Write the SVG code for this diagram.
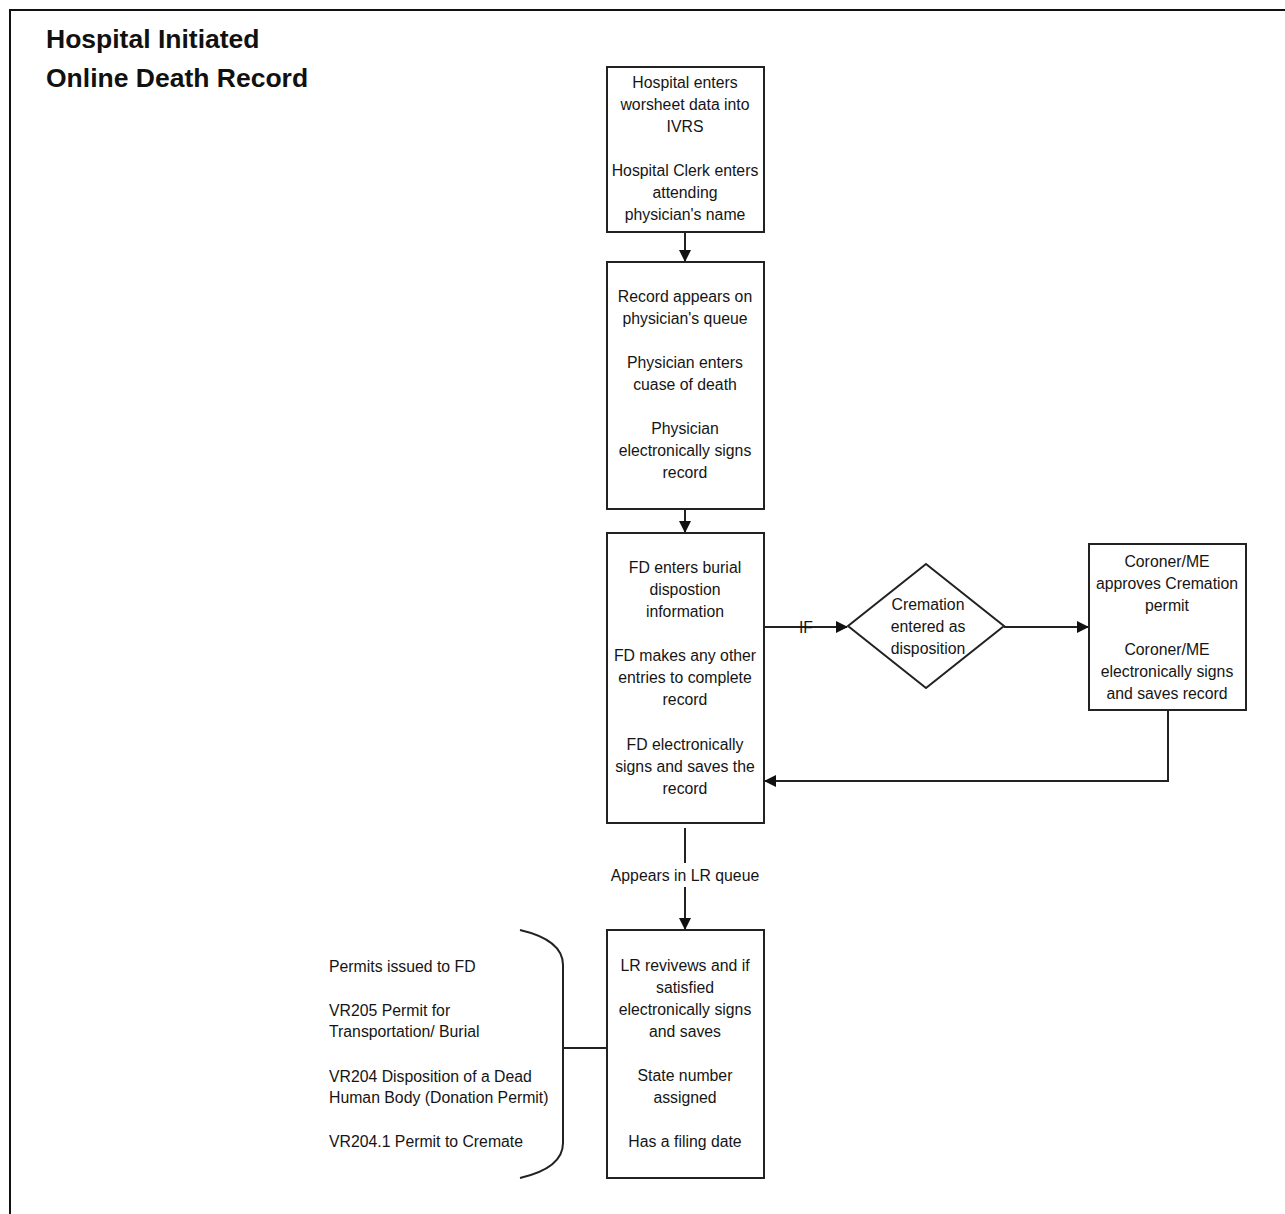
<svg xmlns="http://www.w3.org/2000/svg" width="1285" height="1214" viewBox="0 0 1285 1214">
<style>
.bx{fill:#fff;stroke:#222;stroke-width:2}
.ln{fill:none;stroke:#222;stroke-width:2}
text{font-family:"Liberation Sans",Arial,sans-serif;font-size:15.8px;fill:#151515}
.c{text-anchor:middle}
.t{font-size:26.5px;font-weight:bold;fill:#111}
</style>
<defs>
<marker id="ah" markerWidth="12" markerHeight="12" refX="11" refY="6" orient="auto" markerUnits="userSpaceOnUse">
<path d="M0,0 L12,6 L0,12 Z" fill="#111"/>
</marker>
</defs>
<rect width="1285" height="1214" fill="#fff"/>
<path d="M10,1214 V10 H1285" fill="none" stroke="#111" stroke-width="2"/>
<g id="title">
<text class="t" x="46" y="48">Hospital Initiated</text>
<text class="t" x="46" y="87">Online Death Record</text>
</g>
<g id="connectors">
<line class="ln" x1="685" y1="232" x2="685" y2="261" marker-end="url(#ah)"/>
<line class="ln" x1="685" y1="509" x2="685" y2="532" marker-end="url(#ah)"/>
<line class="ln" x1="764" y1="627" x2="847" y2="627" marker-end="url(#ah)"/>
<text class="c" x="806" y="633">IF</text>
<line class="ln" x1="1004" y1="627" x2="1088" y2="627" marker-end="url(#ah)"/>
<polyline class="ln" points="1168,710 1168,781 765,781" marker-end="url(#ah)"/>
<line class="ln" x1="685" y1="828" x2="685" y2="863"/>
<text class="c" x="685" y="881">Appears in LR queue</text>
<line class="ln" x1="685" y1="887" x2="685" y2="929" marker-end="url(#ah)"/>
<path class="ln" d="M520,930 Q563,940 563,965 V1143 Q563,1168 520,1178"/>
<line class="ln" x1="563" y1="1048" x2="607" y2="1048"/>
</g>
<g id="n1">
<rect class="bx" x="607" y="67" width="157" height="165"/>
<text class="c" x="685" y="88">Hospital enters</text>
<text class="c" x="685" y="110">worsheet data into</text>
<text class="c" x="685" y="132">IVRS</text>
<text class="c" x="685" y="176">Hospital Clerk enters</text>
<text class="c" x="685" y="198">attending</text>
<text class="c" x="685" y="220">physician's name</text>
</g>
<g id="n2">
<rect class="bx" x="607" y="262" width="157" height="247"/>
<text class="c" x="685" y="302">Record appears on</text>
<text class="c" x="685" y="324">physician's queue</text>
<text class="c" x="685" y="368">Physician enters</text>
<text class="c" x="685" y="390">cuase of death</text>
<text class="c" x="685" y="434">Physician</text>
<text class="c" x="685" y="456">electronically  signs</text>
<text class="c" x="685" y="478">record</text>
</g>
<g id="n3">
<rect class="bx" x="607" y="533" width="157" height="290"/>
<text class="c" x="685" y="573">FD enters burial</text>
<text class="c" x="685" y="595">dispostion</text>
<text class="c" x="685" y="617">information</text>
<text class="c" x="685" y="661">FD makes any other</text>
<text class="c" x="685" y="683">entries to complete</text>
<text class="c" x="685" y="705">record</text>
<text class="c" x="685" y="750">FD electronically</text>
<text class="c" x="685" y="772">signs and saves the</text>
<text class="c" x="685" y="794">record</text>
</g>
<g id="n4">
<polygon class="bx" points="926,564 1004,626 926,688 848,626"/>
<text class="c" x="928" y="610">Cremation</text>
<text class="c" x="928" y="632">entered as</text>
<text class="c" x="928" y="654">disposition</text>
</g>
<g id="n5">
<rect class="bx" x="1089" y="544" width="157" height="166"/>
<text class="c" x="1167" y="567">Coroner/ME</text>
<text class="c" x="1167" y="589">approves Cremation</text>
<text class="c" x="1167" y="611">permit</text>
<text class="c" x="1167" y="655">Coroner/ME</text>
<text class="c" x="1167" y="677">electronically signs</text>
<text class="c" x="1167" y="699">and saves record</text>
</g>
<g id="n6">
<rect class="bx" x="607" y="930" width="157" height="248"/>
<text class="c" x="685" y="971">LR revivews and if</text>
<text class="c" x="685" y="993">satisfied</text>
<text class="c" x="685" y="1015">electronically signs</text>
<text class="c" x="685" y="1037">and saves</text>
<text class="c" x="685" y="1081">State number</text>
<text class="c" x="685" y="1103">assigned</text>
<text class="c" x="685" y="1147">Has a filing date</text>
</g>
<g id="n7">
<text x="329" y="972">Permits issued to FD</text>
<text x="329" y="1016">VR205 Permit for</text>
<text x="329" y="1037">Transportation/ Burial</text>
<text x="329" y="1082">VR204 Disposition of a Dead</text>
<text x="329" y="1103">Human Body (Donation Permit)</text>
<text x="329" y="1147">VR204.1 Permit to Cremate</text>
</g>
</svg>
